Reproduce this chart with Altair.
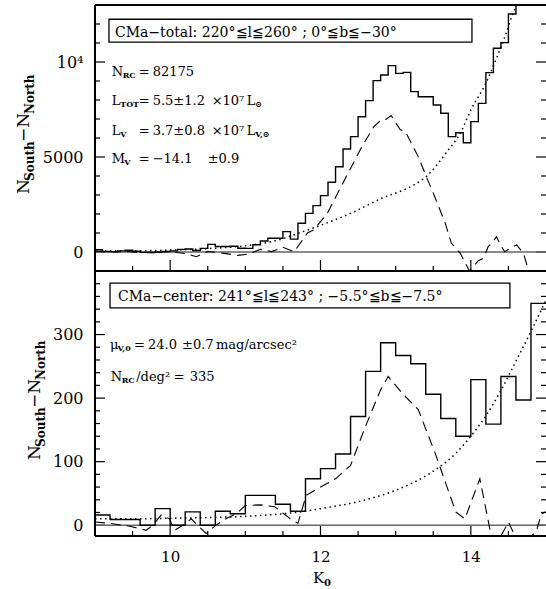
import altair as alt
import pandas as pd

# ---------------- data ----------------
# Top panel: CMa-total, histogram bins of width 0.1 (left edges)
top_bins = [9.0, 9.1, 9.2, 9.3, 9.4, 9.5, 9.6, 9.7, 9.8, 9.9,
            10.0, 10.1, 10.2, 10.3, 10.4, 10.5, 10.6, 10.7, 10.8, 10.9,
            11.0, 11.1, 11.2, 11.3, 11.4, 11.5, 11.6, 11.7, 11.8, 11.9,
            12.0, 12.1, 12.2, 12.3, 12.4, 12.5, 12.6, 12.7, 12.8, 12.9,
            13.0, 13.1, 13.2, 13.3, 13.4, 13.5, 13.6, 13.7, 13.8, 13.9,
            14.0, 14.1, 14.2, 14.3, 14.4, 14.5, 14.6, 14.7, 14.8, 14.9]
top_counts = [120, 30, 20, 60, 90, 40, -20, -30, 0, 30,
              60, 140, 160, 80, 190, 400, 290, 290, 300, 200,
              190, 380, 580, 720, 720, 1070, 680, 1510, 2035, 2440,
              2965, 3670, 4490, 5420, 6070, 7120, 7965, 9020, 9315, 9810,
              9400, 9455, 8440, 8175, 8175, 7735, 7300, 6070, 6280, 5750,
              6860, 7825, 9440, 10720, 11020, 12530, 13600, 14500, 15500, 16500]
top_fit_k = [9.0, 9.2, 9.4, 9.6, 9.8, 10.0, 10.2, 10.35, 10.5, 10.7, 10.9, 11.05,
             11.2, 11.35, 11.5, 11.65, 11.83, 11.91, 12.09, 12.25, 12.4, 12.55,
             12.71, 12.8, 12.86, 12.94, 12.99, 13.06, 13.13, 13.3, 13.39, 13.52,
             13.66, 13.74, 13.86, 13.98, 14.1, 14.17, 14.23, 14.28, 14.34, 14.41,
             14.45, 14.56, 14.61, 14.7, 14.77]
top_fit_v = [50, 0, 30, -30, -20, 20, -80, -250, 30, -60, -180, -100,
             140, 20, 245, 16, 1015, 1160, 2035, 3260, 4400, 5540,
             6600, 6920, 6950, 7180, 6860, 6450, 6330, 5020, 4140, 2910,
             1510, 470, -70, -990, -455, -330, 280, 455, 805, 280,
             16, 280, 370, -70, -990]
top_bg_k = [9.0, 9.5, 10.0, 10.5, 11.0, 11.5, 11.7, 11.95, 12.4, 12.8, 13.25,
            13.4, 13.7, 13.86, 14.0, 14.2, 14.35, 14.47, 14.56, 14.62, 14.8]
top_bg_v = [50, 60, 100, 180, 330, 700, 980, 1330, 2035, 2800, 3550,
            3950, 5370, 6250, 7470, 8880, 10280, 11510, 12560, 13100, 15000]

# Bottom panel: CMa-center, histogram bins of width 0.2 (left edges)
bot_bins = [9.0, 9.2, 9.4, 9.6, 9.8, 10.0, 10.2, 10.4, 10.6, 10.8,
            11.0, 11.2, 11.4, 11.6, 11.8, 12.0, 12.2, 12.4, 12.6, 12.8,
            13.0, 13.2, 13.4, 13.6, 13.8, 14.0, 14.2, 14.4, 14.6, 14.8]
bot_counts = [16, 9, 9, 0, 26, 0, 21, 0, 22, 18,
              47, 47, 33, 22, 73, 89, 112, 171, 242, 287,
              267, 254, 206, 168, 140, 229, 159, 234, 197, 349]
bot_fit_k = [9.0, 9.2, 9.48, 9.68, 9.77, 9.88, 9.99, 10.06, 10.17, 10.28, 10.39,
             10.48, 10.61, 10.74, 10.88, 11.0, 11.2, 11.39, 11.6, 11.7, 11.81,
             12.0, 12.2, 12.4, 12.6, 12.8, 12.9, 13.1, 13.3, 13.52, 13.8, 13.92,
             14.12, 14.26, 14.36, 14.5, 14.56, 14.68, 14.87, 14.94, 15.0]
bot_fit_v = [5, 3, -2, -8, 0, 16, 10, -8, 0, 10, -3,
             -13, 0, 10, 18, 31, 32, 29, 10, 3, 47,
             60, 73, 94, 156, 213, 234, 206, 182, 115, 21, 10,
             73, -10, -26, 5, -10, -31, -10, 18, 21]
bot_bg_k = [9.0, 9.5, 10.0, 10.5, 11.0, 11.5, 11.8, 12.0, 12.5, 13.0, 13.5,
            13.8, 14.0, 14.2, 14.4, 14.6, 14.8, 15.0]
bot_bg_v = [10, 10, 11, 12, 14, 18, 22, 26, 37, 55, 85,
            113, 140, 172, 212, 258, 305, 355]

# tick positions
x_major = [10, 12, 14]
x_minor = [9.5, 10.5, 11, 11.5, 12.5, 13, 13.5, 14.5]
top_major = [0, 5000, 10000]
top_minor = [1000, 2000, 3000, 4000, 6000, 7000, 8000, 9000, 11000, 12000]
bot_major = [0, 100, 200, 300]
bot_minor = [20, 40, 60, 80, 120, 140, 160, 180, 220, 240, 260, 280, 320, 340, 360, 380]

# ---------------- layout / style ----------------
FONT = "DejaVu Serif"
W, H = 451, 531
K_MIN, K_MAX = 9, 15
TOP_DOM, BOT_DOM = [-1000, 13000], [-17, 400]
xs = alt.Scale(domain=[K_MIN, K_MAX], nice=False, zero=False)
s_top = alt.Scale(domain=TOP_DOM, range=[266, 0], nice=False, zero=False)
s_bot = alt.Scale(domain=BOT_DOM, range=[531, 266], nice=False, zero=False)

x_axis = alt.Axis(values=x_major, ticks=False, domain=False, grid=False,
                  format="d", labelFont=FONT, labelFontSize=15, labelColor="black",
                  labelPadding=13, labelFlush=False, labelOverlap=False, title=None)


def X(f="K"):
    return alt.X(f"{f}:Q", scale=xs, axis=x_axis)


def Y(sc, f="V"):
    return alt.Y(f"{f}:Q", scale=sc, axis=None)


def steps(bins, counts):
    return pd.DataFrame({"K": bins + [float(K_MAX)], "V": counts + [counts[-1]]})


def curve(k, v):
    return pd.DataFrame({"K": k, "V": v})


layers = []
one = pd.DataFrame({"K": [12.0], "V": [0.0]})

# axes carrying the labels only (invisible carrier marks)
layers.append(alt.Chart(one).mark_rule(opacity=0).encode(x=X()))
for sc, vals, expr in ((s_top, top_major, "datum.value == 10000 ? '10⁴' : format(datum.value, 'd')"),
                       (s_bot, bot_major, "format(datum.value, 'd')")):
    layers.append(alt.Chart(one).mark_rule(opacity=0).encode(
        y=alt.Y("V:Q", scale=sc, axis=alt.Axis(
            orient="left", values=vals, ticks=False, domain=False, grid=False,
            labelExpr=expr, labelFont=FONT, labelFontSize=16, labelColor="black",
            labelPadding=12, labelOverlap=False, labelFlush=False, title=None))))

# inward tick marks on every panel edge
TK = dict(color="black", thickness=1.2, opacity=1)
for sc, dom, ymaj, ymin in ((s_top, TOP_DOM, top_major, top_minor), (s_bot, BOT_DOM, bot_major, bot_minor)):
    for vals, size in ((x_major, 11), (x_minor, 5)):
        layers.append(alt.Chart(pd.DataFrame({"K": vals, "V": [dom[0]] * len(vals)})).mark_tick(
            orient="vertical", size=size, yOffset=-size / 2, **TK).encode(x=X(), y=Y(sc)))
    for vals, size in ((ymaj, 10), (ymin, 5)):
        for edge, sgn in ((K_MIN, 1), (K_MAX, -1)):
            layers.append(alt.Chart(pd.DataFrame({"K": [edge] * len(vals), "V": vals})).mark_tick(
                orient="horizontal", size=size, xOffset=sgn * size / 2, **TK).encode(x=X(), y=Y(sc)))

# zero lines
for sc in (s_top, s_bot):
    layers.append(alt.Chart(one).mark_rule(color="#666666", strokeWidth=1.6).encode(y=Y(sc)))

# curves
for sc, bk, bv, fk, fv, hb, hc in ((s_top, top_bg_k, top_bg_v, top_fit_k, top_fit_v, top_bins, top_counts),
                                   (s_bot, bot_bg_k, bot_bg_v, bot_fit_k, bot_fit_v, bot_bins, bot_counts)):
    layers.append(alt.Chart(curve(bk, bv)).mark_line(
        color="black", strokeWidth=1.5, strokeDash=[1.5, 3.5], interpolate="monotone", clip=True
    ).encode(x=X(), y=Y(sc)))
    layers.append(alt.Chart(curve(fk, fv)).mark_line(
        color="black", strokeWidth=1.1, strokeDash=[10, 6], clip=True
    ).encode(x=X(), y=Y(sc)))
    layers.append(alt.Chart(steps(hb, hc)).mark_line(
        color="black", strokeWidth=1.4, interpolate="step-after", clip=True
    ).encode(x=X(), y=Y(sc)))

# frame: top edge, bottom edge, left edge and the separator between the panels
# (the right edge of the original frame lies just outside the picture)
FR = dict(color="black", strokeWidth=2)
layers.append(alt.Chart(pd.DataFrame({"V": [TOP_DOM[0], TOP_DOM[1]]})).mark_rule(**FR).encode(y=Y(s_top)))
layers.append(alt.Chart(pd.DataFrame({"V": [BOT_DOM[0]]})).mark_rule(**FR).encode(y=Y(s_bot)))
layers.append(alt.Chart(pd.DataFrame({"K": [K_MIN]})).mark_rule(**FR).encode(x=X()))

# label boxes
box_top = pd.DataFrame({"K": [9.186], "K2": [14.015], "V": [12250], "V2": [11050]})
box_bot = pd.DataFrame({"K": [9.2], "K2": [14.52], "V": [381], "V2": [342]})
for df, sc in ((box_top, s_top), (box_bot, s_bot)):
    layers.append(alt.Chart(df).mark_rect(fill="white", stroke="black", strokeWidth=1.3).encode(
        x=X(), x2="K2", y=Y(sc), y2="V2"))


def piece(sc, k, v, s, size, dx=0, dy=0):
    return alt.Chart(pd.DataFrame({"K": [k], "V": [v], "t": [s]})).mark_text(
        align="left", baseline="alphabetic", font=FONT, fontSize=size, dx=dx, dy=dy, color="black",
        fontWeight="bold" if size < 10 else "normal"
    ).encode(x=X(), y=Y(sc), text="t:N")


M, S = 13, 8
texts = [
    (s_top, 9.266, 11340, "CMa−total: 220°≦l≦260° ; 0°≦b≦−30°", 14, 0, 0),
    (s_top, 9.222, 9260, "N", M, 0, 0), (s_top, 9.222, 9260, "RC", S, 11, 2),
    (s_top, 9.222, 9260, "=", M, 27, 0), (s_top, 9.222, 9260, "82175", M, 41, 0),
    (s_top, 9.222, 7740, "L", M, 0, 0), (s_top, 9.222, 7740, "TOT", S, 8.5, 2),
    (s_top, 9.222, 7740, "=", M, 27, 0), (s_top, 9.222, 7740, "5.5±1.2", M, 41, 0),
    (s_top, 9.222, 7740, "×10⁷", M, 100, 0), (s_top, 9.222, 7740, "L", M, 135, 0),
    (s_top, 9.222, 7740, "⊙", S, 143.5, 2),
    (s_top, 9.222, 6170, "L", M, 0, 0), (s_top, 9.222, 6170, "V", S, 8.5, 2),
    (s_top, 9.222, 6170, "=", M, 27, 0), (s_top, 9.222, 6170, "3.7±0.8", M, 41, 0),
    (s_top, 9.222, 6170, "×10⁷", M, 100, 0), (s_top, 9.222, 6170, "L", M, 135, 0),
    (s_top, 9.222, 6170, "V,⊙", S, 143.5, 2),
    (s_top, 9.222, 4670, "M", M, 0, 0), (s_top, 9.222, 4670, "V", S, 12.5, 2),
    (s_top, 9.222, 4670, "=", M, 27, 0), (s_top, 9.222, 4670, "−14.1", M, 41, 0),
    (s_top, 9.222, 4670, "±0.9", M, 96, 0),
    (s_bot, 9.306, 352.8, "CMa−center: 241°≦l≦243° ; −5.5°≦b≦−7.5°", 14, 0, 0),
    (s_bot, 9.2, 277, "μ", M, 0, 0), (s_bot, 9.2, 277, "V,0", S, 7.5, 2),
    (s_bot, 9.2, 277, "=", M, 24, 0), (s_bot, 9.2, 277, "24.0", M, 38, 0),
    (s_bot, 9.2, 277, "±0.7", M, 72, 0), (s_bot, 9.2, 277, "mag/arcsec²", M, 106, 0),
    (s_bot, 9.209, 227, "N", M, 0, 0), (s_bot, 9.209, 227, "RC", S, 11, 2),
    (s_bot, 9.209, 227, "/deg²", M, 25.5, 0), (s_bot, 9.209, 227, "=", M, 63, 0),
    (s_bot, 9.209, 227, "335", M, 79, 0),
]
for t in texts:
    layers.append(piece(*t))


# rotated y titles and x title
def title_piece(xpx, ypx, s, size, dx, dy, angle=270):
    return alt.Chart(one).mark_text(
        align="left", baseline="alphabetic", font=FONT, fontSize=size, dx=dx, dy=dy,
        angle=angle, color="black", text=s, fontWeight="bold" if size < 15 else "normal"
    ).encode(x=alt.value(xpx), y=alt.value(ypx))


for xpx, ypx in ((-66, 189), (-55, 455)):
    layers.append(title_piece(xpx, ypx, "N", 17, 0, 0))
    layers.append(title_piece(xpx, ypx, "South", 12, 13, 5))
    layers.append(title_piece(xpx, ypx, "−N", 17, 52, 0))
    layers.append(title_piece(xpx, ypx, "North", 12, 80, 5))

kdf = pd.DataFrame({"K": [11.90]})
layers.append(alt.Chart(kdf).mark_text(align="left", baseline="alphabetic", font=FONT, fontSize=15,
                                       color="black", text="K").encode(x=X(), y=alt.value(578)))
layers.append(alt.Chart(kdf).mark_text(align="left", baseline="alphabetic", font=FONT, fontSize=10,
                                       fontWeight="bold", color="black", text="0", dx=11, dy=3).encode(x=X(), y=alt.value(578)))

chart = alt.layer(*layers).resolve_scale(y="independent").resolve_axis(y="independent").properties(
    width=W, height=H,
    autosize=alt.AutoSizeParams(type="none"),
    padding={"left": 95, "top": 5, "right": 0, "bottom": 53},
    background="white",
).configure_view(strokeWidth=0)

chart.save("out.html", embed_options={"renderer": "svg", "actions": False})
